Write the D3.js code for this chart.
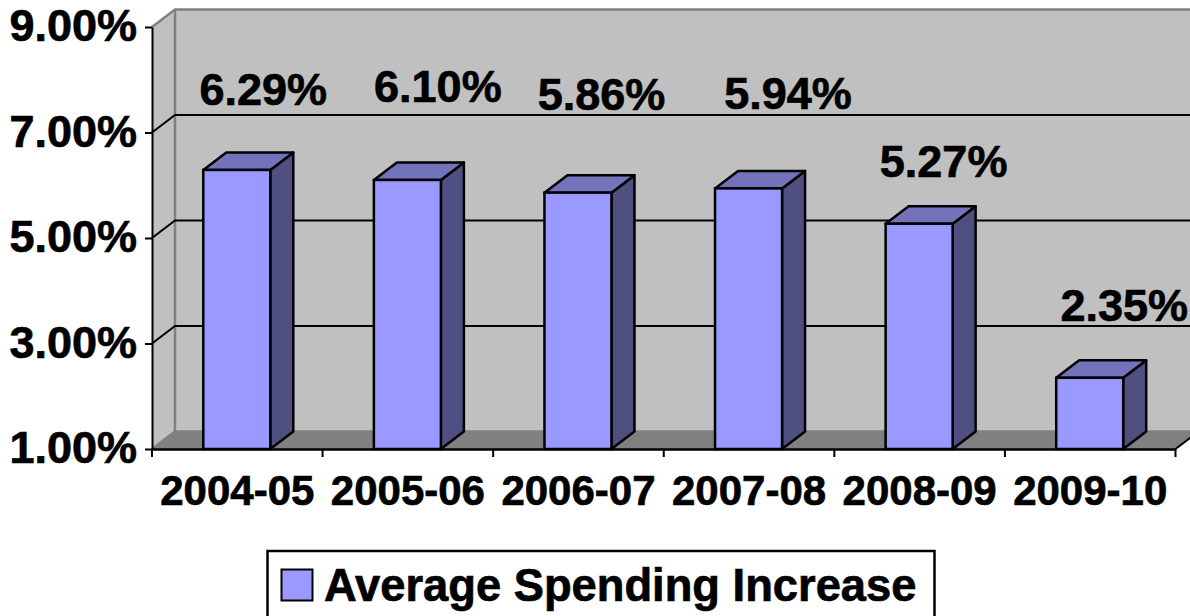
<!DOCTYPE html>
<html><head><meta charset="utf-8">
<script src="https://cdn.jsdelivr.net/npm/d3@7"></script>
<style>
html,body{margin:0;padding:0;background:#fff;overflow:hidden}
svg{display:block}
text{font-family:"Liberation Sans",Arial,sans-serif;font-weight:700;fill:#000;stroke:#000;stroke-width:0.7px}
</style></head><body>
<svg id="c" width="1190" height="616"></svg>
<script>
const categories = ["2004-05","2005-06","2006-07","2007-08","2008-09","2009-10"];
const seriesName = "Average Spending Increase";
const seriesValues = [6.29,6.10,5.86,5.94,5.27,2.35];
const yTicks = [1,3,5,7,9];
// hand-placed label offsets from each bar's default label anchor
const labelNudgeX = [26,30,23,39,24,34];
const labelNudgeY = [-65,-78,-83,-79,-47,-57];

const W=1190,H=616, DX=23, DY=-17.5;
const svg=d3.select("#c");
const x=d3.scaleBand().domain(categories).range([152,1175.5]).paddingInner(0).paddingOuter(0);
const y=d3.scaleLinear().domain([1,9]).range([449,27]);
const barW=67;
const pts=a=>a.map(p=>p.join(",")).join(" ");
const [x0,x1]=x.range(), y0=y(1), yT=y(9);

// back wall
svg.append("polygon").attr("points",pts([[x0+DX,yT+DY],[x1+DX,yT+DY],[x1+DX,y0+DY],[x0+DX,y0+DY]])).attr("fill","#c0c0c0");
// side wall
svg.append("polygon").attr("points",pts([[x0,yT],[x0+DX,yT+DY],[x0+DX,y0+DY],[x0,y0]])).attr("fill","#c0c0c0");
// floor
svg.append("polygon").attr("points",pts([[x0,y0],[x0+DX,y0+DY],[x1+DX,y0+DY],[x1,y0]])).attr("fill","#808080");
// wall borders
svg.append("polyline").attr("points",pts([[x0,yT],[x0+DX,yT+DY],[x1+DX,yT+DY]])).attr("fill","none").attr("stroke","#808080").attr("stroke-width",2.5);
svg.append("polyline").attr("points",pts([[x0+DX,yT+DY],[x0+DX,y0+DY],[x1+DX,y0+DY]])).attr("fill","none").attr("stroke","#808080").attr("stroke-width",2.5);
svg.append("line").attr("x1",x0).attr("y1",y0).attr("x2",x0+DX).attr("y2",y0+DY).attr("stroke","#808080").attr("stroke-width",2.5);
// gridlines
const grid=yTicks.filter(t=>t>1&&t<9);
svg.selectAll(".g").data(grid).join("polyline").attr("class","g")
  .attr("points",t=>pts([[x0,y(t)],[x0+DX,y(t)+DY],[x1+DX,y(t)+DY]]))
  .attr("fill","none").attr("stroke","#000").attr("stroke-width",2);
// floor right edge
svg.append("line").attr("x1",x1).attr("y1",y0).attr("x2",x1+DX).attr("y2",y0+DY).attr("stroke","#000").attr("stroke-width",2);

// bars
const bars=svg.selectAll(".b").data(seriesValues).join("g").attr("class","b");
const bx=(d,i)=>x(categories[i])+x.bandwidth()/2-barW/2-0.5;
bars.append("polygon").attr("fill","#4f4f82").attr("stroke","#000").attr("stroke-width",2.5).attr("stroke-linejoin","round")
  .attr("points",(d,i)=>{const l=bx(d,i)+barW;return pts([[l,y(d)],[l+DX,y(d)+DY],[l+DX,y0+DY],[l,y0]]);});
bars.append("polygon").attr("fill","#7373bb").attr("stroke","#000").attr("stroke-width",2.5).attr("stroke-linejoin","round")
  .attr("points",(d,i)=>{const l=bx(d,i);return pts([[l,y(d)],[l+DX,y(d)+DY],[l+barW+DX,y(d)+DY],[l+barW,y(d)]]);});
bars.append("rect").attr("fill","#9999ff").attr("stroke","#000").attr("stroke-width",2.5)
  .attr("x",bx).attr("y",d=>y(d)).attr("width",barW).attr("height",d=>y0-y(d));

// axes
const gy=svg.append("g").attr("transform",`translate(${x0},0)`)
  .call(d3.axisLeft(y).tickValues(yTicks).tickSize(7).tickSizeOuter(0).tickPadding(8).tickFormat(d=>d.toFixed(2)+"%"));
gy.selectAll("path,line").attr("stroke","#000").attr("stroke-width",2);
gy.selectAll("text").attr("font-size",45).attr("dy","0.3em").style("font-family",'"Liberation Sans",Arial,sans-serif').style("font-weight",700);
const gx=svg.append("g").attr("transform",`translate(0,${y0})`)
  .call(d3.axisBottom(x).tickSizeOuter(0).tickSize(0).tickPadding(26));
gx.selectAll("path").attr("stroke","#000").attr("stroke-width",2.5);
gx.selectAll("text").attr("font-size",42).style("font-family",'"Liberation Sans",Arial,sans-serif').style("font-weight",700);
svg.selectAll(".xt").data(d3.range(categories.length+1)).join("line").attr("class","xt")
  .attr("x1",i=>x0+i*x.step()).attr("x2",i=>x0+i*x.step()).attr("y1",y0).attr("y2",y0+8).attr("stroke","#000").attr("stroke-width",2);

// value labels
svg.selectAll(".v").data(seriesValues).join("text").attr("class","v")
  .attr("text-anchor","middle").attr("font-size",45)
  .attr("x",(d,i)=>x(categories[i])+x.bandwidth()/2+labelNudgeX[i])
  .attr("y",(d,i)=>y(d)+labelNudgeY[i])
  .text(d=>d.toFixed(2)+"%");

// legend
svg.append("rect").attr("x",267.5).attr("y",551).attr("width",667).attr("height",70).attr("fill","#fff").attr("stroke","#000").attr("stroke-width",2.5);
svg.append("rect").attr("x",281.5).attr("y",569.5).attr("width",31).attr("height",31).attr("fill","#9999ff").attr("stroke","#000").attr("stroke-width",2);
svg.append("text").attr("x",324).attr("y",601).attr("font-size",45.3).text(seriesName);
</script>
</body></html>
